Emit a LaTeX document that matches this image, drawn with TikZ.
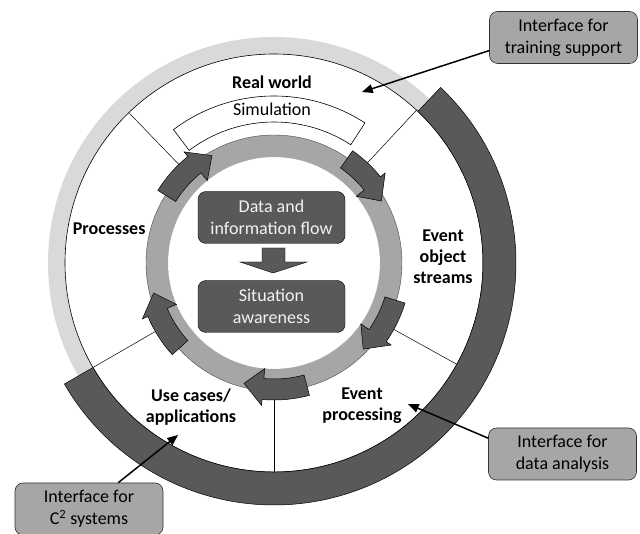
\documentclass[tikz,border=0pt]{standalone}
\usepackage{fontspec}
\setmainfont{Carlito}
\usetikzlibrary{arrows}
\definecolor{ringdark}{HTML}{595959}
\definecolor{ringlight}{HTML}{D9D9D9}
\definecolor{ringmid}{HTML}{A6A6A6}
\definecolor{boxtext}{HTML}{F2F2F2}
% sector of a ring: start angle, end angle, inner radius, outer radius
\newcommand{\ringsector}[4]{(#1:#4) arc[start angle=#1, end angle=#2, radius=#4] -- (#2:#3) arc[start angle=#2, end angle=#1, radius=#3] -- cycle}
% curved block arrow on the middle ring: tail angle, tip angle
\newcommand{\flowarrow}[2]{%
  \filldraw[fill=ringdark, draw=black, line width=0.5pt] (#1:137) arc[start angle=#1, end angle=#2+9, radius=137]
    -- (#2+9:143) -- (#2:124) -- (#2+9:106) -- (#2+9:116) arc[start angle=#2+9, end angle=#1, radius=116] -- cycle;}

\begin{document}
\begin{tikzpicture}[x=1pt,y=1pt,>=triangle 45,font=\fontsize{18pt}{22pt}\selectfont,
  sector/.style={font=\fontsize{18pt}{21pt}\selectfont\bfseries, align=center},
  centerbox/.style={draw=black, fill=ringdark, text=boxtext, rounded corners=8pt, align=center, minimum width=147pt, minimum height=52pt, inner sep=2pt},
  callout/.style={draw=black!80, fill=ringmid, rounded corners=8pt, align=center, minimum width=148pt, minimum height=52pt, inner sep=2pt, line width=0.6pt}]
  \useasboundingbox (0,0) rectangle (640,533);
  \begin{scope}[shift={(274,270)}]
    \fill[ringlight] (0,0) circle[radius=226];
    \filldraw[fill=white, draw=black, line width=0.6pt] (0,0) circle[radius=209];
    \filldraw[fill=ringdark, draw=black, line width=0.5pt] \ringsector{46.5}{-150}{209}{242};
    \foreach \a in {134,47,-29,-90,210}
      \draw[line width=0.5pt] (\a:130) -- (\a:209);
    \filldraw[fill=white, draw=black, line width=0.6pt] \ringsector{57}{127}{141}{167};
    \fill[ringmid] (0,0) circle[radius=128];
    \draw[black!70, line width=0.4pt] (0,0) circle[radius=128];
    \filldraw[fill=white, draw=black!35, densely dotted] (0,0) circle[radius=106];
    \flowarrow{148}{120}
    \flowarrow{55}{30}
    \flowarrow{-17}{-44}
    \flowarrow{-75}{-104}
    \flowarrow{222}{194}
  \end{scope}
  \node (realworld) [sector] at (272,451) {Real world};
  \node (simulation) at (272,424) {Simulation};
  \node (processes) [sector, anchor=east] at (149,304) {Processes};
  \node (streams) [sector] at (443,276) {Event\\object\\streams};
  \node (processing) [sector] at (362,127) {Event\\processing};
  \node (usecases) [sector] at (191,126) {Use cases/\\applications};
  \node (dataflow) [centerbox] at (271.5,315.5) {Data and\\information flow};
  \node (awareness) [centerbox] at (271.5,226.5) {Situation\\awareness};
  \filldraw[fill=ringdark, draw=black, line width=0.4pt] (262,285) -- (285,285) -- (285,271) -- (307,271)
    -- (273,260) -- (240,271) -- (262,271) -- cycle;
  \node (training) [callout] at (563.5,495.5) {Interface for\\training support};
  \node (analysis) [callout] at (562.5,79) {Interface for\\data analysis};
  \node (csystems) [callout] at (89,24) {Interface for\\C\textsuperscript{2} systems};
  \coordinate (trainingtip) at (362,441);
  \coordinate (analysistip) at (408,129);
  \coordinate (csystemstip) at (178,98);
  \draw[->, line width=1.5pt] (training.190) -- (trainingtip);
  \draw[->, line width=1.5pt] (analysis.168) -- (analysistip);
  \draw[->, line width=1.5pt] (csystems.42) -- (csystemstip);
\end{tikzpicture}
\end{document}
